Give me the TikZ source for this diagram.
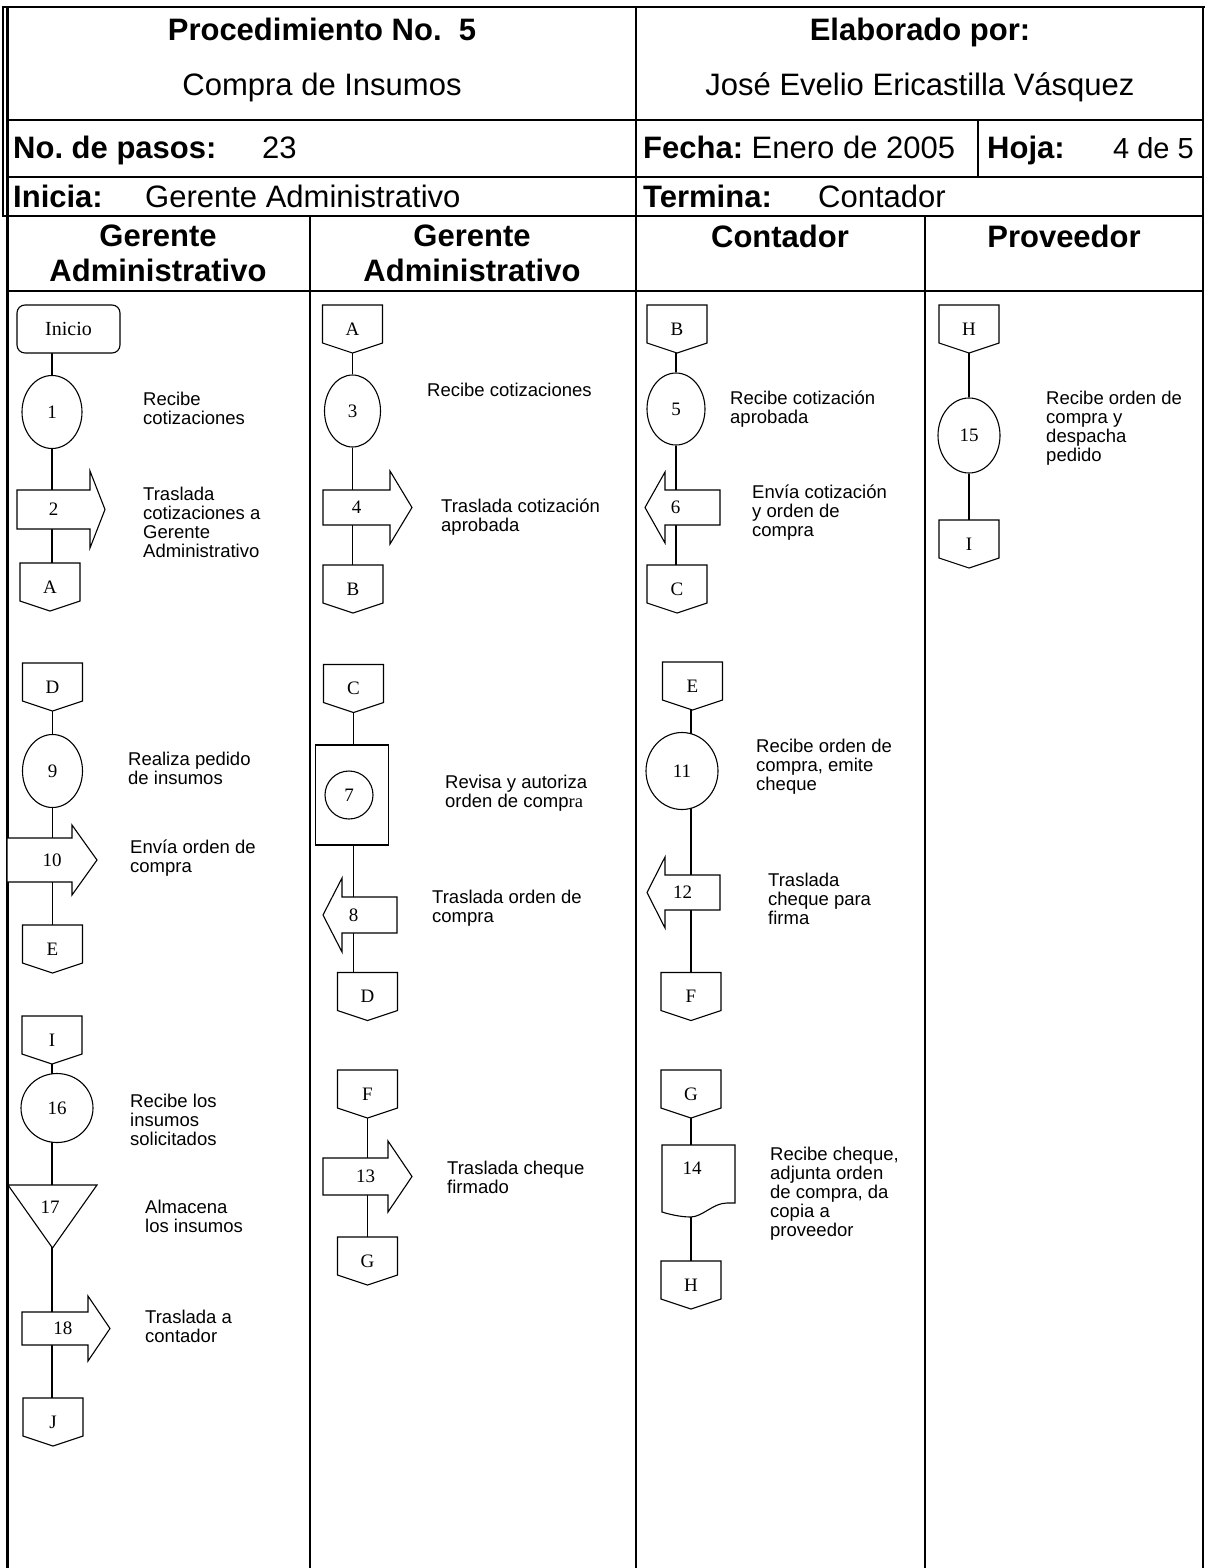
\documentclass[tikz,border=0pt]{standalone}
\usepackage{fontspec}
\setmainfont{Liberation Sans}
\newfontfamily\tnr{Liberation Serif}
\usetikzlibrary{shapes.geometric,backgrounds}
\frenchspacing
\begin{document}
\frenchspacing
\begin{tikzpicture}[x=1pt,y=-1pt,
  hframe/.style={line width=2.6pt},
  lframe/.style={line width=2.2pt},
  ol/.style={line width=1.1pt, line join=miter, fill=white},
  sp/.style={line width=1.3pt},
  numf/.style={font=\tnr\fontsize{19}{19}\selectfont},
  shp/.style={numf, inner sep=0pt, outer sep=0pt},
  elli/.style={ellipse, draw, line width=1.1pt, fill=white, inner sep=0pt, numf},
  offp/.style={shp, minimum width=60pt, minimum height=48pt,
    append after command={(\tikzlastnode.north west) -- (\tikzlastnode.north east)
      -- ([yshift=10pt]\tikzlastnode.south east) -- (\tikzlastnode.south)
      -- ([yshift=10pt]\tikzlastnode.south west) -- cycle}},
  rarr/.style n args={4}{shp, minimum width=#1pt, minimum height=#2pt,
    append after command={(\tikzlastnode.north west) -- (\tikzlastnode.north east)
      -- ([yshift=#4pt]\tikzlastnode.north east) -- ([xshift=#3pt]\tikzlastnode.east)
      -- ([yshift=-#4pt]\tikzlastnode.south east) -- (\tikzlastnode.south east)
      -- (\tikzlastnode.south west) -- cycle}},
  larr/.style n args={4}{shp, minimum width=#1pt, minimum height=#2pt,
    append after command={(\tikzlastnode.north east) -- (\tikzlastnode.north west)
      -- ([yshift=#4pt]\tikzlastnode.north west) -- ([xshift=-#3pt]\tikzlastnode.west)
      -- ([yshift=-#4pt]\tikzlastnode.south west) -- (\tikzlastnode.south west)
      -- (\tikzlastnode.south east) -- cycle}},
  tri/.style 2 args={shp, minimum width=#1pt, minimum height=#2pt,
    append after command={(\tikzlastnode.north west) -- (\tikzlastnode.north east)
      -- (\tikzlastnode.south) -- cycle}},
  docshape/.style={shp, minimum width=73pt, minimum height=72pt,
    append after command={(\tikzlastnode.north west) -- (\tikzlastnode.north east)
      -- ([yshift=14pt]\tikzlastnode.south east) -- ([xshift=-8pt,yshift=14pt]\tikzlastnode.south east)
      .. controls ([xshift=-22pt,yshift=14pt]\tikzlastnode.south east) and ([xshift=4pt]\tikzlastnode.south)
      .. ([xshift=-8pt]\tikzlastnode.south)
      .. controls ([xshift=-18pt]\tikzlastnode.south) and ([xshift=6pt,yshift=3pt]\tikzlastnode.south west)
      .. ([yshift=5pt]\tikzlastnode.south west) -- cycle}},
  hf/.style={font=\fontsize{31}{35}\selectfont, inner sep=0pt},
  hb/.style={font=\bfseries\fontsize{31}{35}\selectfont, inner sep=0pt},
  lab/.style={font=\fontsize{18.5}{19}\selectfont, align=left, anchor=west, inner sep=0pt}
]
\useasboundingbox (0,0) rectangle (1205,1568);

% ---------- frame ----------
\draw[hframe] (1.8,7) -- (1204.5,7);
\draw[line width=1.2pt] (3,7) -- (3,216);
\draw[hframe] (7.5,7) -- (7.5,1568);
\draw[hframe] (1203,7) -- (1203,1568);
\draw[hframe] (7.5,120) -- (1203,120);
\draw[hframe] (7.5,177) -- (1203,177);
\draw[hframe] (2,216) -- (1203,216);
\draw[lframe] (7.5,291) -- (1203,291);
\draw[hframe] (636,7) -- (636,216);
\draw[lframe] (636,216) -- (636,1568);
\draw[hframe] (978,120) -- (978,177);
\draw[lframe] (310,216) -- (310,1568);
\draw[lframe] (925,216) -- (925,1568);

% ---------- header texts ----------
\node[hb, anchor=base] (h1) at (322,41) {Procedimiento No.\ \ 5};
\node[hf, anchor=base] (h2) at (322,96) {Compra de Insumos};
\node[hb, anchor=base] (h3) at (920,41) {Elaborado por:};
\node[hf, anchor=base] (h4) at (920,96) {José Evelio Ericastilla Vásquez};
\node[hb, anchor=base west] (h5) at (13,158) {No.\ de pasos:};
\node[hf, anchor=base west] (h6) at (262,158) {23};
\node[hf, anchor=base west] (h7) at (643,158) {\textbf{Fecha:} Enero de 2005};
\node[hb, anchor=base west] (h8) at (987,158) {Hoja:};
\node[hf, anchor=base west, font=\fontsize{29}{35}\selectfont] (h9) at (1113,158) {4 de 5};
\node[hb, anchor=base west] (h10) at (13,207) {Inicia:};
\node[hf, anchor=base west] (h11) at (145,207) {Gerente Administrativo};
\node[hb, anchor=base west] (h12) at (643,207) {Termina:};
\node[hf, anchor=base west] (h13) at (818,207) {Contador};
\node[hb, align=center] (g1) at (158,253.5) {Gerente\\Administrativo};
\node[hb, align=center] (g2) at (472,253.5) {Gerente\\Administrativo};
\node[hb, anchor=base] (g3) at (780,247) {Contador};
\node[hb, anchor=base] (g4) at (1064,247) {Proveedor};

% ---------- lane 1 ----------
\node[draw, rounded corners=8pt, line width=1.1pt, fill=white, minimum width=103pt,
  minimum height=48pt, inner sep=0pt, font=\tnr\fontsize{20}{20}\selectfont] (ini) at (68.5,329) {Inicio};
\node[elli, minimum width=60pt, minimum height=73pt] (e1) at (52,412) {1};
\draw[ol] (53.5,509.5) node[rarr={73}{39}{15}{19}] (a2) {2};
\draw[ol] (50,587) node[offp] (A1) {A};

\draw[ol] (52.5,687) node[offp] (D1) {D};
\node[elli, minimum width=60pt, minimum height=73pt] (e9) at (52.5,771) {9};
\draw[ol] (39.5,860) node[rarr={65}{44}{25}{13}] (a10) {\hspace*{25pt}10};
\draw[ol] (52.5,949) node[offp] (E1) {E};

\draw[ol] (52,1040) node[offp] (I1) {I};
\node[elli, minimum width=72pt, minimum height=69pt] (e16) at (57,1108) {16};
\draw[ol] (52.5,1216.5) node[tri={89}{63}] (t17) {};
\node[numf, inner sep=0pt] (n17) at (50,1207) {17};
\draw[ol] (55,1328.5) node[rarr={66}{33}{22}{16}] (a18) {\hspace*{16pt}18};
\draw[ol] (53,1422) node[offp] (J1) {J};

% ---------- lane 2 ----------
\draw[ol] (352.5,329) node[offp] (A2) {A};
\node[elli, minimum width=56pt, minimum height=72pt] (e3) at (352.5,411) {3};
\draw[ol] (356.5,507.5) node[rarr={67}{35}{22}{19}] (a4) {4};
\draw[ol] (353,589) node[offp] (B2) {B};

\draw[ol] (353.5,688.5) node[offp] (C2) {C};
\node[draw, line width=1.1pt, fill=white, minimum width=73pt, minimum height=100pt, inner sep=0pt] (r7) at (352,795) {};
\node[circle, draw, line width=1.1pt, fill=white, minimum size=48pt, inner sep=0pt, numf] (c7) at (349,795) {7};
\draw[ol] (369.5,915) node[larr={55}{36}{19}{19}] (a8) {8\hspace*{32pt}};
\draw[ol] (367.5,996.5) node[offp] (D2) {D};

\draw[ol] (367.5,1094) node[offp] (F2) {F};
\draw[ol] (355.5,1176.5) node[rarr={65}{37}{24}{17}] (a13) {\hspace*{20pt}13};
\draw[ol] (367.5,1261) node[offp] (G2) {G};

% ---------- lane 3 ----------
\draw[ol] (677,329) node[offp] (B3) {B};
\node[elli, minimum width=58pt, minimum height=72pt] (e5) at (676,409) {5};
\draw[ol] (692.5,507.5) node[larr={55}{35}{20}{18}] (a6) {6\hspace*{34pt}};
\draw[ol] (677,589) node[offp] (C3) {C};

\draw[ol] (692.5,686) node[offp] (E3) {E};
\node[elli, minimum width=72pt, minimum height=77pt] (e11) at (682,771) {11};
\draw[ol] (692.5,892.5) node[larr={55}{35}{18}{18}] (a12) {12\hspace*{20pt}};
\draw[ol] (691,996.5) node[offp] (F3) {F};

\draw[ol] (691,1094) node[offp] (G3) {G};
\draw[ol] (698.5,1181) node[docshape] (d14) {};
\node[numf, inner sep=0pt] (n14) at (692,1168) {14};
\draw[ol] (691,1285) node[offp] (H3) {H};

% ---------- lane 4 ----------
\draw[ol] (969,329) node[offp] (H4) {H};
\node[elli, minimum width=62pt, minimum height=75pt] (e15) at (969,435.5) {15};
\draw[ol] (969,544) node[offp] (I4) {I};

% ---------- connectors (behind shapes) ----------
\begin{pgfonlayer}{background}
\draw[sp] (ini -| e1) -- (e1);
\draw[sp] (e1) -- (e1 |- a2);
\draw[sp] (e1 |- a2) -- (e1 |- A1);
\draw[sp] (D1) -- (e9);
\draw[sp] (e9) -- (e9 |- a10);
\draw[sp] (e9 |- a10) -- (e9 |- E1);
\draw[sp] (I1) -- (I1 |- e16);
\draw[sp] (I1 |- e16) -- (I1 |- t17);
\draw[sp] (I1 |- t17) -- (I1 |- a18);
\draw[sp] (I1 |- a18) -- (I1 |- J1);
\draw[sp] (A2) -- (e3);
\draw[sp] (e3) -- (e3 |- a4);
\draw[sp] (e3 |- a4) -- (e3 |- B2);
\draw[sp] (C2) -- (C2 |- r7);
\draw[sp] (C2 |- r7) -- (C2 |- a8);
\draw[sp] (C2 |- a8) -- (C2 |- D2);
\draw[sp] (F2) -- (F2 |- a13);
\draw[sp] (F2 |- a13) -- (F2 |- G2);
\draw[sp] (B3 -| e5) -- (e5);
\draw[sp] (e5) -- (e5 |- a6);
\draw[sp] (e5 |- a6) -- (e5 |- C3);
\draw[sp] (F3 |- E3) -- (F3 |- e11);
\draw[sp] (F3 |- e11) -- (F3 |- a12);
\draw[sp] (F3 |- a12) -- (F3);
\draw[sp] (G3) -- (G3 |- d14);
\draw[sp] (G3 |- d14) -- (G3 |- H3);
\draw[sp] (H4) -- (e15);
\draw[sp] (e15) -- (e15 |- I4);
\end{pgfonlayer}

% ---------- labels ----------
\node[lab] (l1) at (143,408.5) {Recibe\\cotizaciones};
\node[lab] (l2) at (143,522) {Traslada\\cotizaciones a\\Gerente\\Administrativo};
\node[lab] (l9) at (128,768) {Realiza pedido\\de insumos};
\node[lab] (l10) at (130,858) {Envía orden de\\compra};
\node[lab] (l16) at (130,1120) {Recibe los\\insumos\\solicitados};
\node[lab] (l17) at (145,1216) {Almacena\\los insumos};
\node[lab] (l18) at (145,1326) {Traslada a\\contador};
\node[lab] (l3) at (427,390) {Recibe cotizaciones};
\node[lab] (l4) at (441,517) {Traslada cotización\\aprobada};
\node[lab] (l7) at (445,793) {Revisa y autoriza\\orden de comp{\tnr ra}};
\node[lab] (l8) at (432,908) {Traslada orden de\\compra};
\node[lab] (l13) at (447,1177) {Traslada cheque\\firmado};
\node[lab] (l5) at (730,409) {Recibe cotización\\aprobada};
\node[lab] (l6) at (752,513) {Envía cotización\\y orden de\\compra};
\node[lab] (l11) at (756,767) {Recibe orden de\\compra, emite\\cheque};
\node[lab] (l12) at (768,899) {Traslada\\cheque para\\firma};
\node[lab] (l14) at (770,1194) {Recibe cheque,\\adjunta orden\\de compra, da\\copia a\\proveedor};
\node[lab] (l15) at (1046,428) {Recibe orden de\\compra y\\despacha\\pedido};
\end{tikzpicture}
\end{document}
